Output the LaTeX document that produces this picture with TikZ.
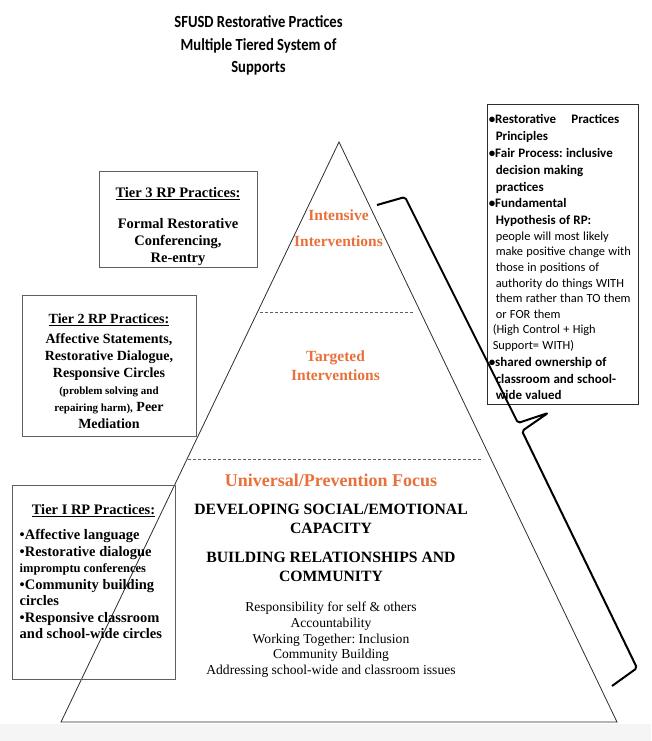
\documentclass[tikz,border=0pt]{standalone}
\usepackage{fontspec}
\setmainfont{Liberation Serif}
\newfontfamily\calfont{Carlito}
\newfontfamily\titlefont[FakeStretch=0.86]{Carlito}
\usetikzlibrary{positioning}
\definecolor{rporange}{RGB}{232,112,58}
\definecolor{rpdark}{RGB}{45,45,45}
\definecolor{rpgrey}{RGB}{95,95,95}
\definecolor{rpband}{RGB}{245,245,245}
\newcommand{\rpind}{\hspace*{7pt}}
\frenchspacing
\tikzset{
  title/.style={font=\titlefont\bfseries\fontsize{17}{22.5}\selectfont,align=center,inner sep=0pt},
  tbox/.style={draw=rpgrey,line width=0.9pt,inner sep=0pt},
  thead/.style={font=\fontsize{14.5}{17}\selectfont\bfseries,inner sep=0pt},
  tbody/.style={font=\fontsize{14.5}{17}\selectfont\bfseries,align=center,inner sep=0pt},
  tlist/.style={font=\fontsize{14.5}{16.5}\selectfont\bfseries,align=left,inner sep=0pt},
  lvl/.style={font=\fontsize{15.5}{19}\selectfont\bfseries,text=rporange,align=center,inner sep=0pt},
  caps/.style={font=\fontsize{15.7}{19}\selectfont\bfseries,align=center,inner sep=0pt},
  small/.style={font=\fontsize{13.6}{15.7}\selectfont,align=center,inner sep=0pt},
  rtext/.style={font=\calfont,text width=150pt,align=left,inner sep=0pt},
  pyr/.style={draw=rpdark,line width=0.8pt},
  tierline/.style={draw=rpgrey,line width=0.8pt,dash pattern=on 3pt off 2pt},
  brc/.style={draw=black,line width=2pt,rounded corners=2pt,line join=round},
}
\begin{document}
\begin{tikzpicture}[x=1pt,y=-1pt]
\useasboundingbox (0,0) rectangle (651,741);
\fill[rpband] (0,724) rectangle (651,741);
\node[title] (title) at (258.5,45.5) {SFUSD Restorative Practices\\Multiple Tiered System of\\Supports};

\coordinate (apex) at (339,142);
\coordinate (bl) at (61,722);
\coordinate (br) at (617,722);
\draw[pyr] (apex) -- (bl) -- (br) -- cycle;
\coordinate (d1l) at (260,312); \coordinate (d1r) at (413,312);
\coordinate (d2l) at (188,459); \coordinate (d2r) at (483,459);
\draw[tierline] (d1l) -- (d1r);
\draw[tierline] (d2l) -- (d2r);

\node[tbox,minimum width=158pt,minimum height=96pt] (t3) at (178,219) {};
\node[thead,below=16.7pt of t3.north] (t3head) {\underline{Tier 3 RP Practices:}};
\node[tbody,below=18.5pt of t3head] (t3body) {Formal Restorative\\Conferencing,\\Re-entry};

\node[tbox,minimum width=174pt,minimum height=141pt] (t2) at (109,365.5) {};
\node[thead,font=\fontsize{14}{17}\selectfont\bfseries,below=19pt of t2.north] (t2head) {\underline{Tier 2 RP Practices:}};
\node[tbody,font=\fontsize{14}{17}\selectfont\bfseries,below=7.4pt of t2head] (t2body) {Affective Statements,\\Restorative Dialogue,\\Responsive Circles\\{\fontsize{11}{17}\selectfont(problem solving and}\\{\fontsize{11}{17}\selectfont repairing harm),} Peer\\Mediation};

\node[tbox,minimum width=163pt,minimum height=194pt] (t1) at (93.5,582) {};
\node[thead,below=19.7pt of t1.north] (t1head) {\underline{Tier I RP Practices:}};
\node[tlist,below right=45pt and 8pt of t1.north west] (t1list) {•Affective language\\•Restorative dialogue\\{\fontsize{12.5}{16.5}\selectfont impromptu conferences}\\•Community building\\circles\\•Responsive classroom\\and school-wide circles};

\node[lvl,font=\fontsize{15.5}{25.3}\selectfont\bfseries] (inten) at (338.5,228.2) {Intensive\\Interventions};
\node[lvl] (targ) at (335.5,366) {Targeted\\Interventions};
\node[lvl,font=\fontsize{18}{20}\selectfont\bfseries] (univ) at (331,480) {Universal/Prevention Focus};
\node[caps,below=17.6pt of univ] (dev) {DEVELOPING SOCIAL/EMOTIONAL\\CAPACITY};
\node[caps,below=17.3pt of dev] (build) {BUILDING RELATIONSHIPS AND\\COMMUNITY};
\node[small,below=20.7pt of build] (resp) {Responsibility for self \& others\\Accountability\\Working Together: Inclusion\\Community Building\\Addressing school-wide and classroom issues};

\node[tbox,draw=rpdark,minimum width=151pt,minimum height=300pt] (rbox) at (562.5,254) {};
\node[rtext,below right=11pt and 2pt of rbox.north west] (rlist) {%
{\bfseries\fontsize{13}{16.8}\selectfont
•Restorative\hspace{12pt} Practices\\
\rpind Principles\\
•Fair Process: inclusive\\
\rpind decision making\\
\rpind practices\\
•Fundamental\\
\rpind Hypothesis of RP:\\}%
{\fontsize{12.4}{15.6}\selectfont
\rpind people will most likely\\
\rpind make positive change with\\
\rpind those in positions of\\
\rpind authority do things WITH\\
\rpind them rather than TO them\\
\rpind or FOR them\\
\hspace*{4pt}(High Control + High\\
\hspace*{4pt}Support= WITH)\\}%
{\bfseries\fontsize{13}{16.8}\selectfont
•shared ownership of\\
\rpind classroom and school-\\
\rpind wide valued\par}};

\coordinate (b1) at (377,205); \coordinate (b2) at (405,197);
\coordinate (b3) at (518,423); \coordinate (b4) at (548,413);
\coordinate (b5) at (522,431); \coordinate (b6) at (637,668);
\coordinate (b7) at (612,686);
\draw[brc] (b1) -- (b2) -- (b3) -- (b4) -- (b5) -- (b6) -- (b7);
\end{tikzpicture}
\end{document}
